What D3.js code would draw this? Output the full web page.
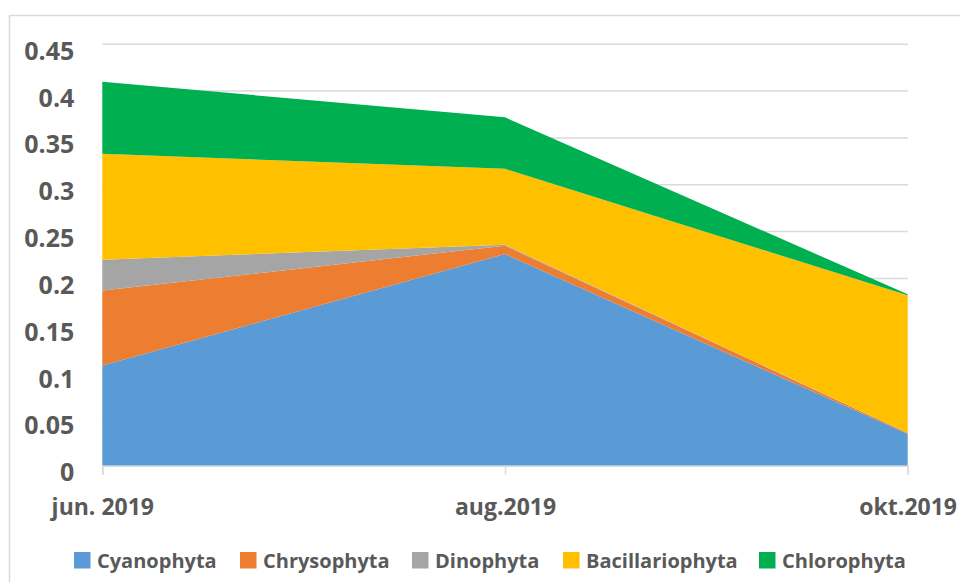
<!DOCTYPE html>
<html>
<head>
<meta charset="utf-8">
<script src="https://cdn.jsdelivr.net/npm/d3@7"></script>
<style>
  body { margin: 0; background: #fff; }
  text { font-family: "Open Sans", sans-serif; font-weight: bold; fill: #595959; }
</style>
</head>
<body>
<svg id="chart"></svg>
<script>
// data
const months = ['jun. 2019', 'aug.2019', 'okt.2019'];
const groups = ['Cyanophyta', 'Chrysophyta', 'Dinophyta', 'Bacillariophyta', 'Chlorophyta'];
const cyanophyta = [0.107, 0.226, 0.034];
const chrysophyta = [0.080, 0.009, 0.001];
const dinophyta = [0.033, 0.001, 0.000];
const bacillariophyta = [0.113, 0.081, 0.147];
const chlorophyta = [0.077, 0.055, 0.001];
const yTicks = [0, 0.05, 0.1, 0.15, 0.2, 0.25, 0.3, 0.35, 0.4, 0.45];

const colors = ['#5B9BD5', '#ED7D31', '#A5A5A5', '#FFC000', '#00B050'];

const width = 960, height = 582;
const margin = {top: 44.3, right: 52.3, bottom: 116.3, left: 102.3};
const innerW = width - margin.left - margin.right;
const innerH = height - margin.top - margin.bottom;

const rows = months.map(function(m, i) {
  return {
    month: m,
    Cyanophyta: cyanophyta[i],
    Chrysophyta: chrysophyta[i],
    Dinophyta: dinophyta[i],
    Bacillariophyta: bacillariophyta[i],
    Chlorophyta: chlorophyta[i]
  };
});

const svgRoot = d3.select('#chart')
    .attr('width', width)
    .attr('height', height);

// outer chart border
svgRoot.append('rect')
    .attr('x', 9.5)
    .attr('y', 15.5)
    .attr('width', width + 20)
    .attr('height', height + 20)
    .attr('fill', 'none')
    .attr('stroke', '#d9d9d9')
    .attr('stroke-width', 1.5);

const svg = svgRoot.append('g')
    .attr('transform', 'translate(' + margin.left + ',' + margin.top + ')');

const x = d3.scalePoint()
    .domain(months)
    .range([0, innerW]);

const y = d3.scaleLinear()
    .domain([0, 0.45])
    .range([innerH, 0]);

// gridlines
svg.append('g')
    .selectAll('line')
    .data(yTicks.filter(d => d > 0))
    .enter()
    .append('line')
    .attr('x1', 0)
    .attr('x2', innerW)
    .attr('y1', d => y(d))
    .attr('y2', d => y(d))
    .attr('stroke', '#d9d9d9')
    .attr('stroke-width', 1.5);

// stacked areas
const stack = d3.stack().keys(groups);
const series = stack(rows);

const area = d3.area()
    .x(d => x(d.data.month))
    .y0(d => y(d[0]))
    .y1(d => y(d[1]));

svg.selectAll('.layer')
    .data(series)
    .enter()
    .append('path')
    .attr('class', 'layer')
    .attr('d', area)
    .attr('fill', (d, i) => colors[i]);

// y axis labels
const yAxis = svg.append('g')
    .call(d3.axisLeft(y).tickValues(yTicks).tickSize(0).tickPadding(28)
      .tickFormat(d => d3.format('')(+d.toFixed(2))));
yAxis.select('.domain').remove();
yAxis.selectAll('text')
    .attr('dy', '0.6em')
    .style('font-size', '25px')
    .attr('fill', '#595959');

// x axis
const xAxis = svg.append('g')
    .attr('transform', 'translate(0,' + innerH + ')')
    .call(d3.axisBottom(x).tickSize(9).tickPadding(24));
xAxis.select('.domain')
    .attr('stroke', '#d9d9d9')
    .attr('stroke-width', 1.5);
xAxis.selectAll('.tick line')
    .attr('stroke', '#d9d9d9')
    .attr('stroke-width', 1.5);
xAxis.selectAll('text')
    .style('font-size', '23px')
    .attr('fill', '#595959');

// legend
const legendX = [74, 240, 412, 563, 759];
const legend = svgRoot.append('g');
const item = legend.selectAll('g')
    .data(groups)
    .enter()
    .append('g')
    .attr('transform', (d, i) => 'translate(' + legendX[i] + ',552)');
item.append('rect')
    .attr('width', 16.5)
    .attr('height', 16.5)
    .attr('fill', (d, i) => colors[i]);
item.append('text')
    .attr('x', 23)
    .attr('y', 16)
    .style('font-size', '20px')
    .text(d => d);
</script>
</body>
</html>
